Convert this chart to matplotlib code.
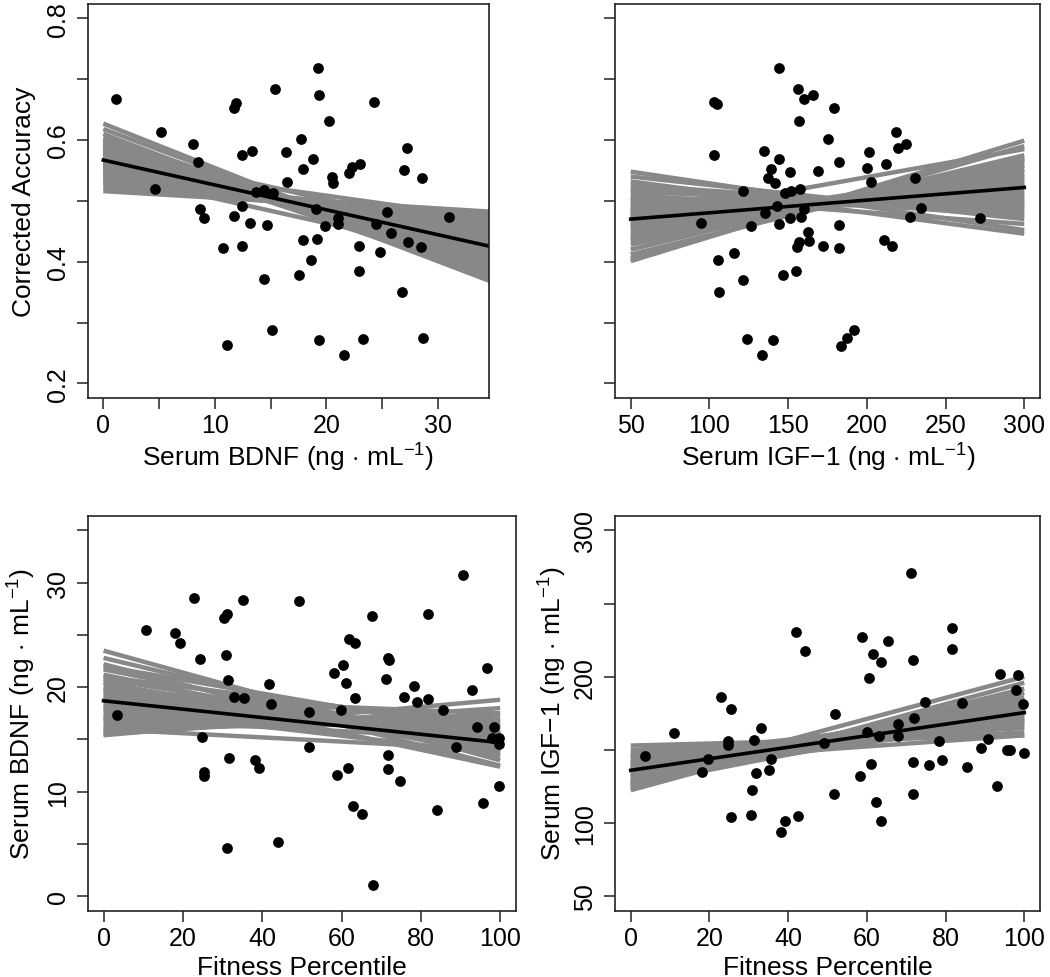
import numpy as np
import matplotlib.pyplot as plt

plt.rcParams['font.family'] = ['Liberation Sans', 'DejaVu Sans']
plt.rcParams['mathtext.fontset'] = 'custom'
plt.rcParams['mathtext.rm'] = 'Liberation Sans'
plt.rcParams['mathtext.it'] = 'Liberation Sans:italic'

# ---- data ----
# top left: serum BDNF vs corrected accuracy
tl_bdnf = [1.13, 15.39, 11.89, 11.74, 5.14, 8.01, 8.46, 13.33, 12.46, 16.35, 17.75, 16.47,
           17.93, 4.65, 13.66, 14.43, 15.18, 12.40, 8.66, 9.00, 11.71, 13.17, 14.70, 17.93,
           10.75, 12.40, 14.43, 17.54, 15.12, 11.09, 19.25, 19.36, 24.30, 20.26, 27.20, 18.77,
           20.48, 20.62, 22.27, 22.00, 23.04, 26.99, 28.55, 19.07, 25.41, 21.01, 21.01, 19.90,
           31.02, 24.45, 25.77, 27.29, 28.46, 19.13, 22.92, 24.81, 18.59, 22.92, 26.84, 19.34,
           23.31, 28.69, 21.61]
tl_acc = [0.668, 0.684, 0.660, 0.653, 0.613, 0.594, 0.564, 0.582, 0.575, 0.580, 0.602, 0.531,
          0.552, 0.520, 0.515, 0.518, 0.513, 0.492, 0.487, 0.472, 0.475, 0.463, 0.461, 0.435,
          0.422, 0.425, 0.371, 0.378, 0.288, 0.263, 0.718, 0.674, 0.663, 0.632, 0.587, 0.568,
          0.539, 0.529, 0.556, 0.546, 0.560, 0.550, 0.538, 0.487, 0.481, 0.472, 0.462, 0.458,
          0.474, 0.462, 0.447, 0.432, 0.424, 0.438, 0.425, 0.416, 0.403, 0.384, 0.351, 0.271,
          0.273, 0.275, 0.247]
tl_fit = [0.567, 0.424]
tl_boot_start = [0.627, 0.618, 0.610, 0.604, 0.598, 0.594, 0.590, 0.586, 0.582, 0.578,
                 0.575, 0.572, 0.568, 0.565, 0.562, 0.559, 0.556, 0.553, 0.550, 0.546,
                 0.542, 0.538, 0.533, 0.527, 0.521, 0.516, 0.560, 0.545, 0.585, 0.590,
                 0.570, 0.555, 0.540, 0.580, 0.600, 0.530]
tl_boot_end = [0.372, 0.380, 0.366, 0.392, 0.398, 0.384, 0.405, 0.410, 0.400, 0.416,
               0.425, 0.412, 0.430, 0.437, 0.422, 0.444, 0.436, 0.452, 0.446, 0.460,
               0.455, 0.468, 0.475, 0.465, 0.482, 0.478, 0.470, 0.402, 0.440, 0.375,
               0.418, 0.428, 0.448, 0.395, 0.388, 0.458]

# top right: serum IGF-1 vs corrected accuracy
tr_igf = [144.4, 156.5, 160.3, 165.5, 102.9, 104.8, 157.1, 175.0, 102.9, 134.7, 144.0, 139.2,
          137.5, 141.9, 151.2, 168.7, 121.2, 148.2, 151.8, 157.3, 142.7, 135.4, 160.3, 94.9,
          126.1, 144.4, 151.2, 158.2, 162.3, 157.1, 155.6, 163.4, 172.3, 115.5, 105.4, 121.2,
          106.0, 146.5, 155.0, 123.8, 140.6, 133.2, 179.0, 218.2, 219.9, 224.9, 201.4, 182.4,
          200.3, 212.1, 202.4, 230.9, 234.1, 227.1, 271.6, 182.4, 182.0, 210.9, 216.1, 191.9,
          187.3, 183.5]
tr_acc = [0.718, 0.684, 0.668, 0.674, 0.663, 0.659, 0.632, 0.602, 0.575, 0.582, 0.568, 0.553,
          0.538, 0.529, 0.547, 0.549, 0.516, 0.513, 0.517, 0.520, 0.492, 0.480, 0.487, 0.464,
          0.458, 0.462, 0.472, 0.473, 0.449, 0.432, 0.424, 0.434, 0.425, 0.414, 0.403, 0.370,
          0.351, 0.378, 0.384, 0.273, 0.271, 0.247, 0.653, 0.613, 0.587, 0.593, 0.580, 0.564,
          0.554, 0.561, 0.531, 0.537, 0.488, 0.474, 0.472, 0.461, 0.422, 0.436, 0.425, 0.288,
          0.274, 0.262]
tr_fit = [0.470, 0.522]
tr_boot_start = [0.548, 0.540, 0.532, 0.526, 0.520, 0.515, 0.510, 0.505, 0.500, 0.496,
                 0.492, 0.488, 0.484, 0.480, 0.476, 0.472, 0.468, 0.464, 0.460, 0.455,
                 0.450, 0.445, 0.440, 0.434, 0.428, 0.420, 0.412, 0.405, 0.401, 0.470,
                 0.486, 0.458, 0.438, 0.518, 0.502, 0.478]
tr_boot_end = [0.452, 0.470, 0.446, 0.480, 0.475, 0.488, 0.462, 0.495, 0.505, 0.490,
               0.512, 0.500, 0.520, 0.515, 0.528, 0.522, 0.535, 0.530, 0.542, 0.538,
               0.550, 0.545, 0.558, 0.565, 0.560, 0.575, 0.570, 0.590, 0.599, 0.585,
               0.508, 0.552, 0.568, 0.482, 0.498, 0.526]

# bottom left: fitness percentile vs serum BDNF
bl_fit_pct = [22.7, 35.1, 49.2, 31.2, 30.3, 10.8, 17.9, 19.4, 24.4, 30.8, 31.3, 41.8, 32.8,
              35.3, 42.3, 51.9, 3.4, 24.9, 51.7, 31.7, 38.1, 39.1, 25.3, 25.3, 31.2, 44.0,
              90.6, 67.7, 81.7, 61.8, 63.3, 71.6, 72.1, 58.2, 60.5, 61.1, 71.2, 96.6, 63.5,
              75.7, 78.3, 79.1, 81.7, 93.0, 85.5, 59.9, 94.1, 98.5, 97.9, 99.8, 99.8, 88.9,
              71.6, 71.6, 61.6, 58.9, 74.8, 99.7, 62.8, 65.2, 84.1, 95.6, 67.9]
bl_bdnf = [28.5, 28.3, 28.2, 27.0, 26.6, 25.5, 25.2, 24.2, 22.7, 23.1, 20.7, 20.3, 19.1,
           19.0, 18.4, 17.6, 17.3, 15.2, 14.3, 13.2, 13.0, 12.3, 11.9, 11.5, 4.6, 5.2,
           30.7, 26.8, 27.0, 24.6, 24.2, 22.8, 22.6, 21.4, 22.1, 20.4, 20.8, 21.8, 19.0,
           19.1, 20.1, 18.6, 18.9, 19.7, 17.8, 17.8, 16.2, 16.2, 15.1, 15.1, 14.6, 14.3,
           13.5, 12.2, 12.3, 11.6, 11.0, 10.6, 8.6, 7.9, 8.3, 8.9, 1.1]
bl_fit = [18.7, 14.7]
bl_boot_start = [23.5, 22.8, 22.2, 21.7, 21.2, 20.8, 20.4, 20.0, 19.7, 19.4, 19.1, 18.8,
                 18.5, 18.2, 17.9, 17.6, 17.3, 17.0, 16.7, 16.4, 16.1, 15.8, 15.5, 15.4,
                 20.5, 19.0, 22.0, 16.0, 21.0, 18.0, 17.0, 19.8]
bl_boot_end = [13.0, 13.8, 12.5, 14.2, 13.4, 14.6, 13.9, 15.0, 14.4, 15.3, 14.8, 15.6,
               15.1, 16.0, 15.5, 16.3, 15.8, 16.7, 16.2, 17.0, 16.6, 17.4, 18.0, 18.8,
               12.4, 17.5, 15.5, 14.0, 16.2, 13.6, 15.0, 16.8]

# bottom right: fitness percentile vs serum IGF-1
br_fit_pct = [41.9, 44.2, 23.0, 25.5, 33.0, 10.9, 24.7, 24.7, 31.4, 3.5, 19.6, 18.2, 35.6,
              35.2, 31.8, 30.9, 25.5, 30.5, 39.2, 38.3, 42.5, 49.2,
              71.3, 81.7, 81.7, 58.8, 65.3, 61.6, 63.5, 71.7, 60.5, 93.9, 98.4, 97.9, 99.7,
              74.9, 84.2, 52.0, 72.1, 67.8, 60.1, 63.0, 67.8, 78.3, 90.7, 89.0, 95.7, 96.4,
              99.9, 61.1, 71.7, 75.8, 79.2, 85.4, 58.3, 51.7, 71.7, 93.0, 62.2, 63.5]
br_igf = [230.4, 217.4, 186.1, 178.0, 164.8, 161.3, 156.3, 153.3, 156.7, 145.7, 143.5, 135.0,
          143.7, 136.6, 134.3, 122.9, 104.1, 105.7, 101.8, 93.7, 104.7, 154.5,
          271.2, 233.4, 219.2, 227.0, 224.2, 215.6, 210.1, 211.5, 199.1, 201.9, 200.9, 191.1,
          181.5, 183.0, 181.9, 174.4, 172.0, 167.7, 162.4, 159.5, 159.5, 156.3, 157.2, 151.0,
          150.3, 149.9, 147.6, 140.7, 141.8, 139.6, 143.0, 138.4, 132.0, 120.1, 120.1, 125.1,
          114.4, 101.8]
br_fit = [136.1, 175.5]
br_boot_start = [153.0, 150.0, 148.0, 146.0, 144.0, 142.0, 140.5, 139.0, 137.5, 136.0,
                 134.5, 133.0, 131.5, 130.0, 128.5, 127.0, 125.5, 124.0, 122.5, 135.0,
                 141.0, 126.0, 128.0, 145.0, 132.0, 138.0]
br_boot_end = [160.0, 165.0, 162.0, 168.0, 166.0, 171.0, 169.0, 174.0, 172.0, 177.0,
               175.0, 180.0, 178.0, 183.0, 181.0, 186.0, 189.0, 192.0, 196.0, 185.0,
               160.0, 178.0, 200.0, 175.0, 170.0, 182.0]

W, H = 1050, 978
fig = plt.figure(figsize=(W / 100, H / 100), dpi=100)


def rect(l, r, t, b):
    return [l / W, 1 - b / H, (r - l) / W, (b - t) / H]


def panel(box, x, y, xlim, ylim, line_x, starts, ends, fit,
          xticks, xlabels, yticks, ylabels):
    ax = fig.add_axes(rect(*box))
    for s, e in zip(starts, ends):
        ax.plot(line_x, [s, e], color='#888888', lw=3.2, solid_capstyle='butt', zorder=1)
    ax.plot(line_x, fit, color='black', lw=2.6, zorder=2)
    ax.scatter(x, y, s=60, color='black', linewidths=0, zorder=3)
    ax.set_xlim(*xlim)
    ax.set_ylim(*ylim)
    ax.set_xticks(xticks)
    ax.set_xticklabels(xlabels)
    ax.set_yticks(yticks)
    ax.set_yticklabels(ylabels)
    ax.tick_params(length=8, width=1.1, color='#222222', labelsize=18, pad=3)
    ax.tick_params(axis='y', labelrotation=90, pad=5)
    for lab in ax.get_yticklabels():
        lab.set_va('center')
    for sp in ax.spines.values():
        sp.set_linewidth(1.2)
        sp.set_color('#222222')
    return ax


panel((87.7, 489, 4.7, 399), tl_bdnf, tl_acc, (-1.4, 34.6), (0.176, 0.824),
      [0, 35], tl_boot_start, tl_boot_end, tl_fit,
      [0, 5, 10, 15, 20, 25, 30], ['0', '', '10', '', '20', '', '30'],
      [0.2, 0.3, 0.4, 0.5, 0.6, 0.7, 0.8], ['0.2', '', '0.4', '', '0.6', '', '0.8'])

panel((615, 1040, 4.7, 399), tr_igf, tr_acc, (40, 310), (0.176, 0.824),
      [50, 300], tr_boot_start, tr_boot_end, tr_fit,
      [50, 100, 150, 200, 250, 300], ['50', '100', '150', '200', '250', '300'],
      [0.2, 0.3, 0.4, 0.5, 0.6, 0.7, 0.8], [''] * 7)

panel((87.7, 516, 516.7, 912), bl_fit_pct, bl_bdnf, (-4, 104), (-1.4, 36.4),
      [0, 100], bl_boot_start, bl_boot_end, bl_fit,
      [0, 20, 40, 60, 80, 100], ['0', '20', '40', '60', '80', '100'],
      [0, 5, 10, 15, 20, 25, 30, 35], ['0', '', '10', '', '20', '', '30', ''])

panel((615, 1040, 516.7, 912), br_fit_pct, br_igf, (-4, 104), (40, 310),
      [0, 100], br_boot_start, br_boot_end, br_fit,
      [0, 20, 40, 60, 80, 100], ['0', '20', '40', '60', '80', '100'],
      [50, 100, 150, 200, 250, 300], ['50', '100', '', '200', '', '300'])

lab = dict(fontsize=19, ha='center', va='center')
fig.text(24 / W, 1 - 202 / H, 'Corrected Accuracy', rotation=90, **lab)
fig.text(288 / W, 1 - 458 / H, r'Serum BDNF (ng $\cdot$ mL$^{-1}$)', **lab)
fig.text(828 / W, 1 - 458 / H, r'Serum IGF$-$1 (ng $\cdot$ mL$^{-1}$)', **lab)
fig.text(22 / W, 1 - 714 / H, r'Serum BDNF (ng $\cdot$ mL$^{-1}$)', rotation=90, **lab)
fig.text(553 / W, 1 - 714 / H, r'Serum IGF$-$1 (ng $\cdot$ mL$^{-1}$)', rotation=90, **lab)
fig.text(302 / W, 1 - 968 / H, 'Fitness Percentile', **lab)
fig.text(828 / W, 1 - 968 / H, 'Fitness Percentile', **lab)

fig.savefig('out.png', dpi=100)
